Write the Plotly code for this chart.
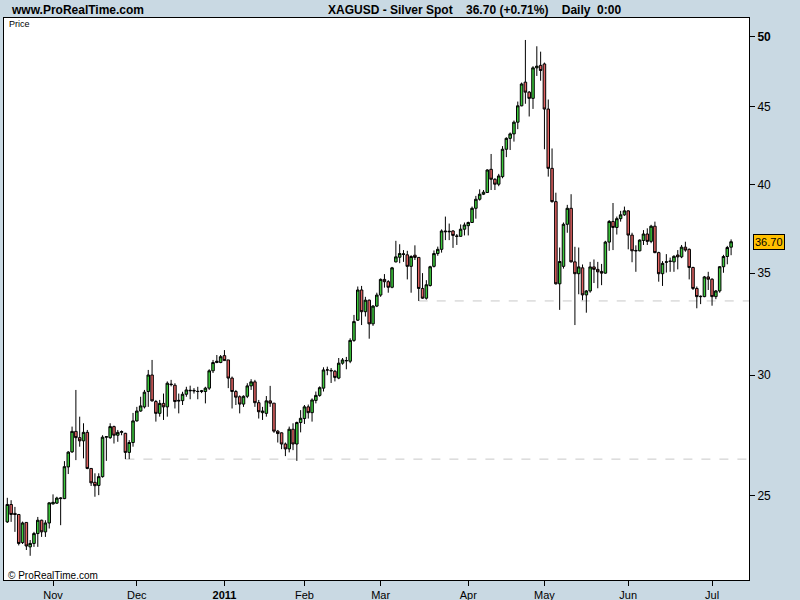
import math
import pandas as pd
import plotly.graph_objects as go

# ---------------- data ----------------
opens = [
    24.04, 24.68, 24.35, 24.31, 23.30, 24.02, 23.15, 23.27, 23.62, 24.10,
    23.68, 24.00, 24.70, 24.73, 24.90, 24.90, 26.12, 26.72, 27.56, 27.30,
    27.17, 27.52, 26.06, 25.52, 25.40, 25.74, 27.32, 27.30, 27.76, 27.40,
    27.52, 27.48, 26.70, 27.10, 28.00, 28.42, 28.60, 29.27, 30.01, 28.83,
    28.32, 28.75, 28.60, 29.60, 29.55, 28.85, 28.87, 29.15, 29.30, 29.32,
    29.28, 29.27, 29.27, 29.42, 30.20, 30.58, 30.58, 30.90, 30.70, 29.87,
    29.27, 29.04, 28.72, 29.06, 29.52, 29.70, 28.78, 28.35, 28.32, 28.86,
    28.76, 27.57, 27.50, 27.04, 26.84, 27.65, 27.04, 27.93, 28.10, 28.60,
    28.35, 28.88, 29.10, 29.42, 30.24, 30.22, 30.18, 29.87, 30.55, 30.66,
    30.64, 31.62, 32.60, 34.12, 33.02, 33.60, 32.42, 33.30, 33.86, 34.67,
    34.55, 34.26, 35.60, 35.85, 36.00, 35.98, 35.36, 35.96, 35.84, 34.20,
    33.70, 34.35, 35.36, 36.05, 36.28, 37.30, 37.25, 37.30, 37.02, 37.00,
    37.40, 37.60, 37.78, 38.60, 39.13, 39.43, 39.53, 40.94, 40.33, 40.03,
    40.49, 42.20, 42.90, 43.19, 43.96, 45.06, 46.70, 46.00, 45.57, 47.72,
    47.90, 48.00, 44.84, 41.00, 38.99, 34.44, 35.36, 37.68, 38.60, 35.60,
    34.97, 35.28, 33.87, 34.07, 35.33, 35.20, 35.09, 35.00, 36.68, 37.84,
    37.50, 38.00, 38.22, 38.45, 37.07, 36.22, 36.20, 36.77, 37.13, 36.72,
    37.57, 36.10, 34.97, 35.58, 35.62, 35.60, 35.97, 35.87, 36.40, 36.28,
    35.30, 34.20, 33.80, 33.78, 34.80, 34.68, 33.78, 34.07, 35.34, 35.89,
    36.40,
]
highs = [
    24.93, 24.84, 24.59, 24.33, 24.05, 24.02, 23.39, 23.68, 24.22, 24.12,
    24.10, 24.76, 25.06, 24.97, 24.95, 26.35, 26.75, 27.76, 29.34, 28.18,
    27.90, 27.62, 26.06, 25.87, 25.87, 27.40, 27.35, 27.90, 27.80, 27.62,
    27.60, 27.50, 27.20, 28.34, 28.60, 29.04, 29.34, 30.24, 30.70, 28.90,
    28.90, 29.18, 29.72, 29.79, 29.64, 29.18, 29.26, 29.48, 29.53, 29.42,
    29.48, 29.34, 29.48, 30.27, 30.70, 30.93, 30.93, 31.16, 30.70, 29.94,
    29.34, 29.10, 29.10, 29.64, 29.82, 29.79, 28.90, 28.60, 29.07, 29.52,
    28.76, 27.62, 27.52, 27.10, 27.76, 27.90, 27.97, 28.46, 28.68, 28.70,
    28.97, 29.27, 29.50, 30.36, 30.39, 30.33, 30.24, 30.79, 30.79, 30.84,
    31.72, 32.86, 34.30, 34.33, 33.77, 33.63, 33.35, 33.98, 34.72, 34.95,
    34.63, 35.33, 36.75, 36.56, 36.24, 36.20, 35.96, 36.50, 35.84, 35.00,
    34.63, 35.39, 36.22, 36.43, 37.39, 38.12, 37.72, 37.35, 37.13, 37.67,
    37.78, 37.83, 38.70, 39.33, 39.72, 39.68, 40.94, 41.90, 40.39, 40.66,
    42.40, 42.97, 43.28, 44.07, 45.35, 46.67, 49.77, 46.08, 47.84, 49.30,
    48.90, 48.10, 45.49, 42.25, 39.52, 36.38, 37.78, 38.80, 39.43, 36.42,
    36.38, 35.46, 34.12, 35.60, 35.73, 35.60, 35.49, 36.75, 37.92, 38.91,
    38.12, 38.45, 38.70, 38.48, 37.20, 36.50, 36.83, 37.35, 37.45, 37.65,
    37.83, 36.15, 35.64, 36.02, 35.83, 35.96, 36.24, 36.52, 36.70, 36.33,
    35.34, 34.30, 33.84, 34.85, 35.07, 34.73, 34.12, 35.37, 35.98, 36.47,
    36.83,
]
lows = [
    24.00, 24.04, 23.68, 23.20, 23.25, 23.04, 22.84, 23.15, 23.15, 23.50,
    23.50, 23.80, 24.68, 24.70, 23.92, 24.88, 25.84, 26.68, 26.39, 26.93,
    26.46, 26.03, 25.38, 24.97, 25.03, 25.70, 26.36, 27.25, 27.06, 27.13,
    27.40, 26.43, 26.43, 26.93, 27.97, 28.39, 28.53, 28.60, 28.83, 27.97,
    28.18, 28.04, 28.18, 29.50, 28.53, 28.32, 28.68, 29.04, 28.93, 29.18,
    28.93, 29.20, 28.75, 29.34, 30.10, 30.55, 30.55, 30.67, 29.42, 28.53,
    28.68, 28.32, 28.60, 28.98, 29.34, 28.60, 28.10, 28.04, 28.18, 28.60,
    27.50, 27.10, 26.83, 26.55, 26.70, 26.79, 26.36, 27.52, 27.87, 28.10,
    27.97, 28.75, 29.04, 29.27, 30.00, 29.65, 29.72, 29.82, 30.48, 30.27,
    30.55, 31.55, 32.56, 32.36, 32.78, 31.70, 32.32, 33.25, 33.77, 34.24,
    33.98, 34.21, 35.57, 35.53, 35.60, 34.67, 33.98, 35.70, 33.56, 33.67,
    33.63, 34.30, 35.30, 35.93, 36.10, 36.79, 36.79, 36.36, 36.52, 36.98,
    37.05, 37.05, 37.76, 38.00, 39.05, 39.38, 39.50, 39.68, 39.68, 39.91,
    40.39, 41.70, 42.15, 42.69, 43.50, 45.03, 45.20, 44.34, 44.85, 47.14,
    46.80, 42.20, 40.49, 38.93, 34.40, 33.11, 35.24, 37.20, 35.57, 32.36,
    33.90, 33.60, 32.97, 33.98, 34.48, 34.21, 34.37, 34.97, 36.20, 36.24,
    37.10, 37.83, 38.16, 36.28, 35.58, 35.07, 36.17, 36.52, 36.52, 36.62,
    36.07, 34.55, 34.33, 35.03, 35.07, 35.07, 35.20, 35.80, 36.15, 34.67,
    34.12, 33.19, 33.40, 33.75, 34.12, 33.32, 33.65, 33.98, 35.02, 35.47,
    35.96,
]
closes = [
    24.68, 24.31, 24.31, 23.27, 24.00, 23.18, 23.27, 23.62, 24.10, 23.68,
    24.00, 24.74, 24.76, 24.92, 24.92, 26.13, 26.71, 27.56, 27.30, 27.17,
    27.52, 26.06, 25.50, 25.39, 25.74, 27.32, 27.34, 27.76, 27.40, 27.52,
    27.55, 26.70, 27.10, 28.00, 28.42, 28.64, 29.24, 30.01, 28.86, 28.32,
    28.75, 28.60, 29.64, 29.58, 28.83, 28.88, 29.15, 29.34, 29.32, 29.30,
    29.27, 29.30, 29.42, 30.20, 30.58, 30.64, 30.85, 30.67, 29.87, 29.27,
    29.02, 28.72, 29.06, 29.52, 29.70, 28.78, 28.39, 28.42, 28.86, 28.76,
    27.57, 27.47, 27.04, 26.84, 27.65, 27.04, 27.93, 28.11, 28.60, 28.35,
    28.90, 29.10, 29.44, 30.24, 30.24, 30.20, 29.90, 30.55, 30.70, 30.67,
    31.62, 32.53, 34.12, 33.02, 33.60, 32.42, 33.30, 33.86, 34.67, 34.55,
    34.26, 35.28, 35.87, 36.05, 36.03, 35.36, 35.89, 35.84, 34.20, 33.70,
    34.39, 35.34, 36.05, 36.28, 37.30, 37.26, 37.28, 37.05, 37.00, 37.40,
    37.64, 37.78, 38.60, 39.13, 39.43, 39.55, 40.90, 40.33, 40.03, 40.53,
    42.20, 42.90, 43.19, 43.96, 45.06, 46.57, 46.00, 45.57, 47.72, 47.84,
    47.53, 44.84, 41.00, 38.99, 34.44, 35.62, 37.68, 38.60, 35.60, 34.97,
    35.33, 33.87, 34.07, 35.33, 35.20, 35.07, 35.00, 36.68, 37.84, 37.50,
    38.00, 38.22, 38.45, 37.07, 36.20, 36.20, 36.79, 37.13, 36.72, 37.57,
    36.10, 34.97, 35.52, 35.60, 35.64, 35.90, 35.87, 36.40, 36.24, 35.30,
    34.20, 33.78, 33.78, 34.80, 34.68, 33.78, 34.07, 35.34, 35.89, 36.38,
    36.70,
]

# trading days (weekdays, Good Friday closed)
days = pd.bdate_range("2010-10-14", "2011-07-08")
days = [d for d in days if d != pd.Timestamp("2011-04-22")]
dates = [d.strftime("%Y-%m-%d") for d in days]
n = min(len(dates), len(opens))
dates = dates[:n]

tick_dates = ["2010-11-01", "2010-12-01", "2011-01-03", "2011-02-01", "2011-03-01",
              "2011-04-01", "2011-05-02", "2011-06-01", "2011-07-01"]
tick_labels = ["Nov", "Dec", "<b>2011</b>", "Feb", "Mar", "Apr", "May", "Jun", "Jul"]
y_ticks = [25, 30, 35, 40, 45, 50]
y_tick_labels = ["25", "30", "35", "40", "45", "<b>50</b>"]

support_start = [31, 108]          # candles whose lows start the support lines
header = "XAGUSD - Silver Spot&nbsp;&nbsp;&nbsp; 36.70 (+0.71%)&nbsp;&nbsp;&nbsp; Daily&nbsp; 0:00"

# ---------------- figure ----------------
GREEN = "#3CC83C"
RED = "#E06262"
BG = "#C9D9E3"
FONT = "Liberation Sans, Arial, sans-serif"

fig = go.Figure(go.Candlestick(
    x=dates[:n], open=opens[:n], high=highs[:n], low=lows[:n], close=closes[:n],
    increasing=dict(fillcolor=GREEN, line=dict(color="black", width=1)),
    decreasing=dict(fillcolor=RED, line=dict(color="black", width=1)),
    whiskerwidth=0, showlegend=False, hoverinfo="skip",
))

x_max = n + 3.7
for idx in support_start:
    fig.add_shape(type="line", xref="x", yref="y",
                  x0=idx, x1=x_max, y0=lows[idx], y1=lows[idx],
                  line=dict(color="#C8C8C8", width=1, dash="dash"), layer="below")

L, R, T, B = 4, 51, 18, 20
W, H = 800, 600
pw, ph = W - L - R, H - T - B

def px(xp):
    return (xp - L) / pw

def py(yp):
    return (H - B - yp) / ph

fig.update_layout(
    width=W, height=H,
    margin=dict(l=L, r=R, t=T, b=B, pad=0, autoexpand=False),
    paper_bgcolor=BG, plot_bgcolor="white",
    font=dict(family=FONT, size=12, color="black"),
    showlegend=False,
    boxgap=0.05,
    xaxis=dict(type="category", range=[-0.87, x_max], rangeslider=dict(visible=False),
               automargin=False,
               showgrid=False, zeroline=False,
               showline=True, linecolor="black", linewidth=1, mirror=True,
               ticks="outside", ticklen=5, tickcolor="black", tickwidth=1,
               tickvals=tick_dates, ticktext=tick_labels,
               tickfont=dict(size=11)),
    yaxis=dict(type="log", side="right", automargin=False,
               range=[math.log10(22.02), math.log10(51.45)],
               showgrid=False, zeroline=False,
               showline=True, linecolor="black", linewidth=1, mirror=True,
               ticks="outside", ticklen=5, tickcolor="black", tickwidth=1,
               tickvals=y_ticks, ticktext=y_tick_labels,
               tickfont=dict(size=12)),
)

fig.add_annotation(text="<b>www.ProRealTime.com</b>", xref="paper", yref="paper",
                   x=px(9), y=py(10), xanchor="left", yanchor="middle",
                   showarrow=False, font=dict(size=12))
fig.add_annotation(text="<b>" + header + "</b>", xref="paper", yref="paper",
                   x=px(326), y=py(10), xanchor="left", yanchor="middle",
                   showarrow=False, font=dict(size=12))
fig.add_annotation(text="Price", xref="paper", yref="paper",
                   x=px(7), y=py(24), xanchor="left", yanchor="middle",
                   showarrow=False, font=dict(size=9))
fig.add_annotation(text="© ProRealTime.com", xref="paper", yref="paper",
                   x=px(6), y=py(575), xanchor="left", yanchor="middle",
                   showarrow=False, font=dict(size=10))
fig.add_annotation(text="%.2f" % closes[n - 1], xref="paper", yref="y",
                   x=px(753), y=math.log10(closes[n - 1]), xanchor="left", yanchor="middle",
                   showarrow=False, font=dict(size=11),
                   bgcolor="#FFC000", bordercolor="black", borderwidth=1, borderpad=1)

page_fix = ("document.body.style.margin='0px';"
            "document.body.style.padding='0px';"
            "document.body.style.background='" + BG + "';")
fig.write_html("out.html", post_script=page_fix, config={"displayModeBar": False})
